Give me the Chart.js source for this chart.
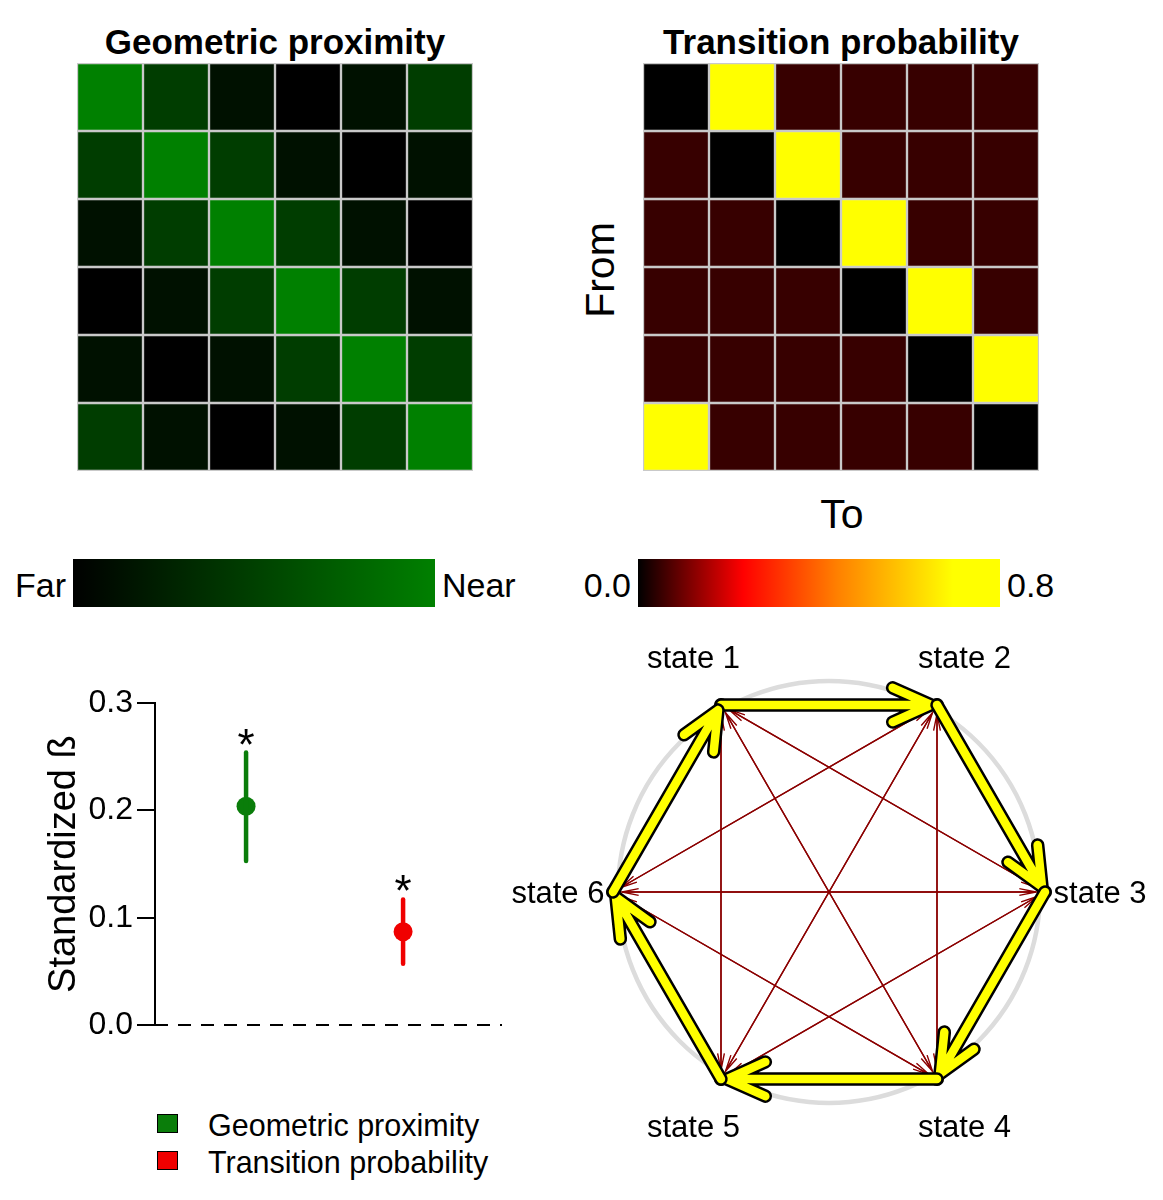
<!DOCTYPE html>
<html><head><meta charset="utf-8">
<script src="https://cdn.jsdelivr.net/npm/chart.js@4.4.1/dist/chart.umd.min.js"></script>
<style>
html,body{margin:0;padding:0;background:#fff;}
body{width:1163px;height:1200px;position:relative;overflow:hidden;font-family:"Liberation Sans",Arial,sans-serif;color:#000;}
canvas{position:absolute;}
.t{position:absolute;white-space:nowrap;line-height:1;}
.b{font-weight:bold;}
.c{transform:translate(-50%,-50%);}
.r{transform:translate(-100%,-50%);}
.l{transform:translate(0,-50%);}
.sq{position:absolute;box-sizing:border-box;border:1.5px solid #000;width:21px;height:19px;}
</style></head><body>

<div class="t b c" style="left:275px;top:41px;font-size:35px">Geometric proximity</div>
<div class="t b c" style="left:841px;top:41px;font-size:35px">Transition probability</div>
<div class="t" style="left:600px;top:270px;font-size:41px;transform:translate(-50%,-50%) rotate(-90deg)">From</div>
<div class="t c" style="left:842px;top:514px;font-size:41px">To</div>
<div class="t r" id="lblFar" style="left:66px;top:585px;font-size:34px"></div>
<div class="t l" id="lblNear" style="left:442px;top:585px;font-size:34px"></div>
<div class="t r" id="lblP0" style="left:631px;top:585px;font-size:34px"></div>
<div class="t l" id="lblP1" style="left:1007px;top:585px;font-size:34px"></div>
<div class="sq" style="left:157px;top:1114px;background:#0a7d0a"></div>
<div class="sq" style="left:157px;top:1151px;background:#f00000"></div>
<div class="t" id="leg0" style="left:208px;top:1110px;font-size:30.5px"></div>
<div class="t" id="leg1" style="left:208px;top:1147px;font-size:30.5px"></div>

<canvas id="heatProx" width="396" height="408" style="left:77px;top:63px"></canvas>
<canvas id="heatTrans" width="396" height="408" style="left:643px;top:63px"></canvas>
<canvas id="barProx" width="362" height="48" style="left:73px;top:559px"></canvas>
<canvas id="barTrans" width="362" height="48" style="left:638px;top:559px"></canvas>
<canvas id="beta" width="490" height="370" style="left:20px;top:680px"></canvas>
<canvas id="net" width="663" height="540" style="left:500px;top:628px"></canvas>

<script>
// ---------------- DATA ----------------
const states = ['state 1', 'state 2', 'state 3', 'state 4', 'state 5', 'state 6'];
const proximity = [
  [1.00, 0.48, 0.13, 0.00, 0.13, 0.48],
  [0.48, 1.00, 0.48, 0.13, 0.00, 0.13],
  [0.13, 0.48, 1.00, 0.48, 0.13, 0.00],
  [0.00, 0.13, 0.48, 1.00, 0.48, 0.13],
  [0.13, 0.00, 0.13, 0.48, 1.00, 0.48],
  [0.48, 0.13, 0.00, 0.13, 0.48, 1.00]
];
const transition = [
  [0.00, 0.80, 0.05, 0.05, 0.05, 0.05],
  [0.05, 0.00, 0.80, 0.05, 0.05, 0.05],
  [0.05, 0.05, 0.00, 0.80, 0.05, 0.05],
  [0.05, 0.05, 0.05, 0.00, 0.80, 0.05],
  [0.05, 0.05, 0.05, 0.05, 0.00, 0.80],
  [0.80, 0.05, 0.05, 0.05, 0.05, 0.00]
];
const proxScaleLabels = ['Far', 'Near'];
const probScaleLabels = ['0.0', '0.8'];
const probMax = 0.8;
const betaNames = ['Geometric proximity', 'Transition probability'];
const betaMean = [0.204, 0.087];
const betaLow = [0.153, 0.057];
const betaHigh = [0.254, 0.117];
const betaTicks = [0.0, 0.1, 0.2, 0.3];

// ---------------- STYLE ----------------
Chart.defaults.font.family = '"Liberation Sans", Arial, sans-serif';
Chart.defaults.color = '#000';
const greenStops = [[0, [0, 0, 0]], [1, [0, 128, 0]]];
const heatStops = [[0, [0, 0, 0]], [0.29, [255, 0, 0]], [0.55, [255, 128, 0]], [0.87, [255, 255, 0]], [1, [255, 255, 0]]];
const betaColors = ['#0a7d0a', '#f00000'];

document.getElementById('lblFar').textContent = proxScaleLabels[0];
document.getElementById('lblNear').textContent = proxScaleLabels[1];
document.getElementById('lblP0').textContent = probScaleLabels[0];
document.getElementById('lblP1').textContent = probScaleLabels[1];
document.getElementById('leg0').textContent = betaNames[0];
document.getElementById('leg1').textContent = betaNames[1];

function colorAt(stops, f) {
  f = Math.max(0, Math.min(1, f));
  for (let i = 1; i < stops.length; i++) {
    if (f <= stops[i][0]) {
      const a = stops[i - 1], b = stops[i];
      const t = (f - a[0]) / (b[0] - a[0] || 1);
      const c = a[1].map((v, k) => Math.round(v + (b[1][k] - v) * t));
      return `rgb(${c[0]},${c[1]},${c[2]})`;
    }
  }
  const c = stops[stops.length - 1][1];
  return `rgb(${c[0]},${c[1]},${c[2]})`;
}

const baseOpts = {
  responsive: false, animation: false,
  layout: {padding: 0, autoPadding: false},
  plugins: {legend: {display: false}, tooltip: {enabled: false}, title: {display: false}}
};

function heatmap(id, matrix, colorFn) {
  const datasets = matrix.map((row, r) => ({
    data: row.map(() => [r, r + 1]),
    backgroundColor: row.map(colorFn),
    borderColor: '#c9c9c9', borderWidth: 1.5, borderSkipped: false,
    barPercentage: 1, categoryPercentage: 1, grouped: false
  }));
  new Chart(document.getElementById(id), {
    type: 'bar',
    data: {labels: states, datasets},
    options: Object.assign({}, baseOpts, {
      scales: {
        x: {display: false},
        y: {display: false, min: 0, max: matrix.length, reverse: true}
      }
    })
  });
}
heatmap('heatProx', proximity, v => colorAt(greenStops, v));
heatmap('heatTrans', transition, v => colorAt(heatStops, v / probMax));

function colorbar(id, stops) {
  new Chart(document.getElementById(id), {
    type: 'bar',
    data: {labels: [''], datasets: [{
      data: [[0, 1]],
      barPercentage: 1, categoryPercentage: 1,
      backgroundColor: ctx => {
        const ca = ctx.chart.chartArea;
        if (!ca) return '#000';
        const g = ctx.chart.ctx.createLinearGradient(ca.left, 0, ca.right, 0);
        stops.forEach(s => g.addColorStop(s[0], `rgb(${s[1].join(',')})`));
        return g;
      }
    }]},
    options: Object.assign({}, baseOpts, {
      indexAxis: 'y',
      scales: {x: {display: false, min: 0, max: 1}, y: {display: false}}
    })
  });
}
colorbar('barProx', greenStops);
colorbar('barTrans', heatStops);

// ---------------- BETA PLOT ----------------
const xMin = 0.42, xMax = 2.63;
const betaDatasets = [{
  type: 'line', data: [{x: xMin, y: 0}, {x: xMax, y: 0}],
  borderColor: '#000', borderWidth: 2, borderDash: [13, 10], pointRadius: 0, clip: false
}];
betaMean.forEach((m, i) => {
  betaDatasets.push({
    type: 'line', data: [{x: i + 1, y: betaLow[i]}, {x: i + 1, y: betaHigh[i]}],
    borderColor: betaColors[i], borderWidth: 4.5, borderCapStyle: 'round', pointRadius: 0, clip: false
  });
  betaDatasets.push({
    type: 'scatter', data: [{x: i + 1, y: m}],
    backgroundColor: betaColors[i], borderWidth: 0, pointRadius: 9.5, clip: false
  });
});
const starPlugin = {
  id: 'stars',
  afterDatasetsDraw(chart) {
    const {ctx, scales: {x, y}} = chart;
    ctx.save();
    ctx.fillStyle = '#000';
    ctx.font = '44px "Liberation Sans", Arial, sans-serif';
    ctx.textAlign = 'center';
    ctx.textBaseline = 'alphabetic';
    betaHigh.forEach((h, i) => ctx.fillText('*', x.getPixelForValue(i + 1), y.getPixelForValue(h) + 7));
    ctx.restore();
  }
};
new Chart(document.getElementById('beta'), {
  type: 'scatter',
  data: {datasets: betaDatasets},
  plugins: [starPlugin],
  options: Object.assign({}, baseOpts, {
    layout: {padding: {left: 0, top: 23, right: 8, bottom: 25}, autoPadding: false},
    scales: {
      x: {type: 'linear', display: false, min: xMin, max: xMax},
      y: {
        min: 0, max: 0.3,
        afterBuildTicks: s => { s.ticks = betaTicks.map(v => ({value: v})); },
        afterFit: s => { s.width = 135; },
        ticks: {padding: 4, font: {size: 32}, color: '#000', callback: v => Number(v).toFixed(1)},
        grid: {display: true, drawOnChartArea: false, drawTicks: true, tickLength: 18, color: '#000', lineWidth: 2},
        border: {display: true, color: '#000', width: 2},
        title: {display: true, text: 'Standardized ß', font: {size: 38}, color: '#000', padding: {top: 22, bottom: 0}}
      }
    }
  })
});

// ---------------- NETWORK ----------------
const nodeAngles = states.map((s, i) => (120 - 60 * i) * Math.PI / 180);
const nodes = nodeAngles.map(a => ({x: Math.cos(a), y: Math.sin(a)}));
const netPlugin = {
  id: 'net',
  beforeDatasetsDraw(chart) {
    const {ctx, scales: {x, y}} = chart;
    const cx = x.getPixelForValue(0), cy = y.getPixelForValue(0);
    const r = x.getPixelForValue(0.977) - cx;
    ctx.save();
    ctx.strokeStyle = '#dcdcdc'; ctx.lineWidth = 4.5;
    ctx.beginPath(); ctx.arc(cx, cy, r, 0, Math.PI * 2); ctx.stroke();
    ctx.restore();
  },
  afterDatasetsDraw(chart) {
    const {ctx, scales: {x, y}} = chart;
    const px = nodes.map(n => ({x: x.getPixelForValue(n.x), y: y.getPixelForValue(n.y)}));
    function path(p, q, gap, len, ang) {
      const dx = q.x - p.x, dy = q.y - p.y, L = Math.hypot(dx, dy), ux = dx / L, uy = dy / L;
      const tx = q.x - ux * gap, ty = q.y - uy * gap;
      ctx.beginPath();
      ctx.moveTo(p.x, p.y); ctx.lineTo(tx, ty);
      const base = Math.atan2(uy, ux) + Math.PI;
      [1, -1].forEach(s => {
        const a = base + s * ang;
        ctx.moveTo(tx + Math.cos(a) * len, ty + Math.sin(a) * len);
        ctx.lineTo(tx, ty);
      });
    }
    ctx.save();
    ctx.lineJoin = 'round';
    // weak transitions
    transition.forEach((row, i) => row.forEach((p, j) => {
      if (i === j || p <= 0 || p >= 0.5) return;
      ctx.strokeStyle = '#8b0000'; ctx.lineWidth = 1.4; ctx.lineCap = 'butt';
      path(px[i], px[j], 9, 17, 0.2);
      ctx.stroke();
    }));
    // strong transitions
    ctx.lineCap = 'round';
    transition.forEach((row, i) => row.forEach((p, j) => {
      if (i === j || p < 0.5) return;
      path(px[i], px[j], 6, 42, 0.42);
      ctx.strokeStyle = '#000'; ctx.lineWidth = 13.5; ctx.stroke();
      ctx.strokeStyle = '#ffff00'; ctx.lineWidth = 8.5; ctx.stroke();
    }));
    // labels
    ctx.fillStyle = '#000';
    ctx.font = '31px "Liberation Sans", Arial, sans-serif';
    ctx.textAlign = 'center'; ctx.textBaseline = 'middle';
    states.forEach((s, i) => {
      const a = nodeAngles[i];
      ctx.fillText(s, x.getPixelForValue(1.255 * Math.cos(a)), y.getPixelForValue(1.255 * Math.sin(a)) + 2);
    });
    ctx.restore();
  }
};
new Chart(document.getElementById('net'), {
  type: 'scatter',
  data: {datasets: [{data: nodes, backgroundColor: '#000', borderWidth: 0, pointRadius: 7, clip: false}]},
  plugins: [netPlugin],
  options: Object.assign({}, baseOpts, {
    scales: {
      x: {type: 'linear', display: false, min: -1.5231, max: 1.5463},
      y: {type: 'linear', display: false, min: -1.2778, max: 1.2222}
    }
  })
});
</script>
</body></html>
